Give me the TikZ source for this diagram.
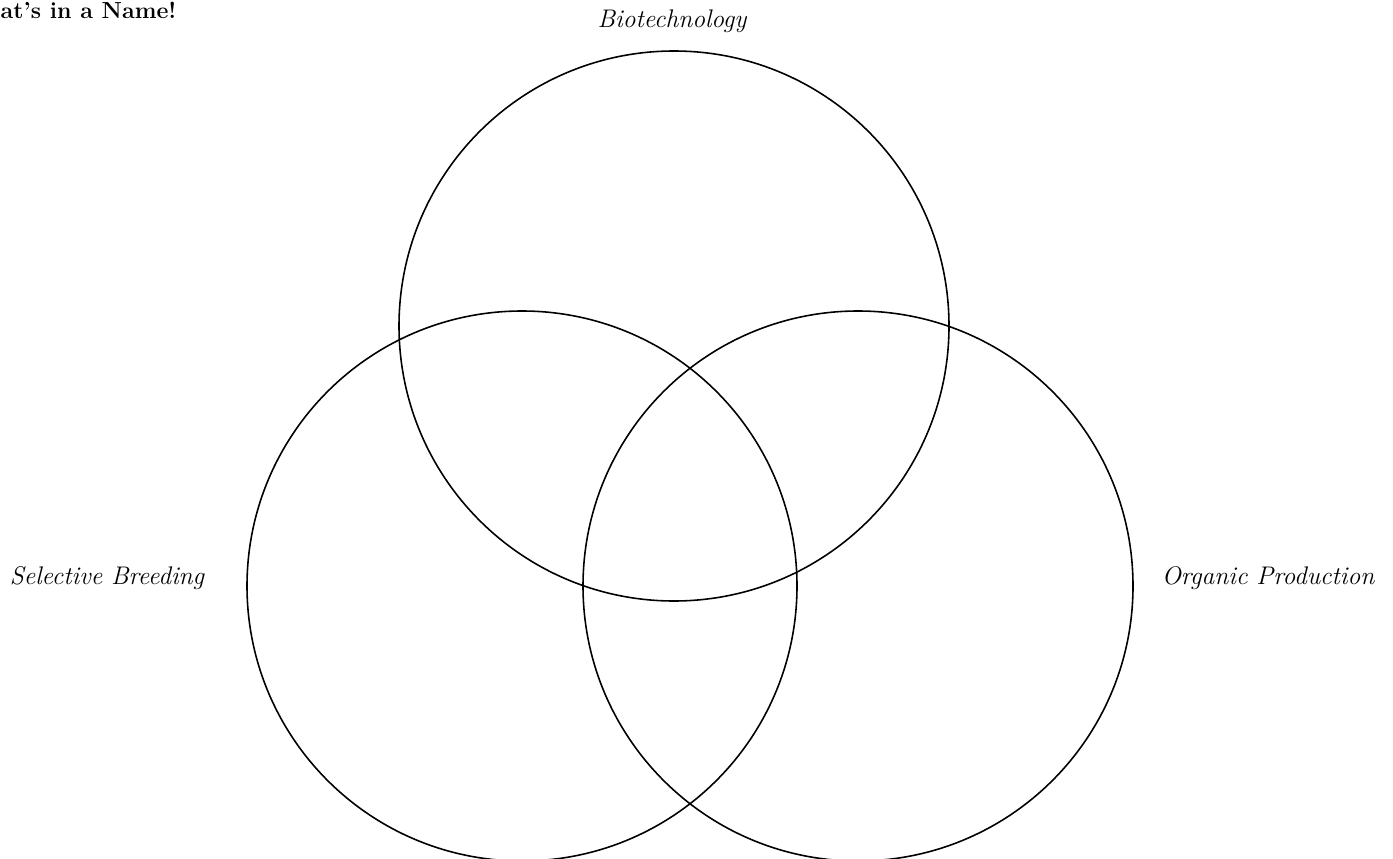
\documentclass[tikz,border=0pt]{standalone}
\usepackage{amsmath}
\usepackage{xcolor}

\begin{document}
\begin{tikzpicture}[thick,
        venn/.style={draw, circle, line width=0.9pt, inner sep=0pt, minimum size=11cm},
        setlabel/.style={font=\fontsize{14.5}{17}\selectfont\itshape}]
        \useasboundingbox (0,0) rectangle (27.86,-17.18);

        % Titulo
        \node[anchor=base west, inner sep=0pt, font=\fontsize{13.2}{15}\selectfont\bfseries] (title) at (0,-0.38) {at's in a Name!};

        % Circulos
        \node[venn] (bio) at (13.48,-6.52) {};
        \node[venn] (breed) at (10.44,-11.72) {};
        \node[venn] (organic) at (17.16,-11.72) {};

        % Etiquetas
        \node[setlabel] (biolabel) at (13.44,-0.42) {Biotechnology};
        \node[setlabel] (breedlabel) at (2.14,-11.56) {Selective Breeding};
        \node[setlabel] (organiclabel) at (25.36,-11.56) {Organic Production};
\end{tikzpicture}
\end{document}
